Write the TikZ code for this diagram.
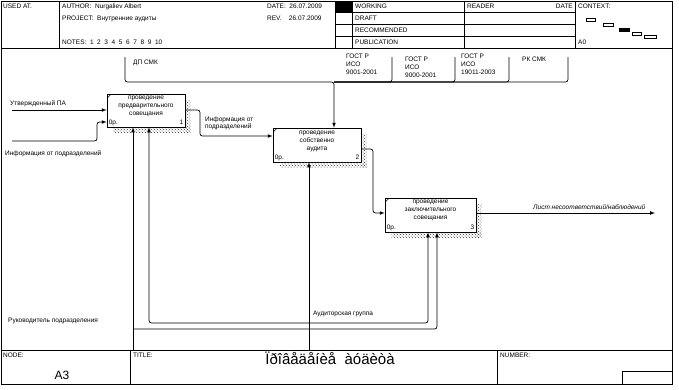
\documentclass[tikz,border=0pt]{standalone}
\usepackage{fontspec}
\setmainfont{Liberation Sans}
\usetikzlibrary{positioning, calc, arrows, patterns}
\newcommand\dfont{\fontsize{6.5}{8}\selectfont}
\tikzset{frm/.style={draw, line width=0.6pt}}
\tikzset{abox/.style={draw, line width=0.7pt, fill=white, inner sep=0pt}}
\tikzset{shd/.style={pattern=crosshatch dots, pattern color=black!80}}
\tikzset{arr/.style={draw, -latex, line width=0.7pt, rounded corners=2.5pt}}
\tikzset{lnk/.style={draw, line width=0.7pt, rounded corners=2.5pt}}
\tikzset{lbl/.style={font=\dfont, inner sep=0pt, anchor=base west, align=left}}
\tikzset{btxt/.style={font=\dfont, inner sep=0pt, anchor=north, align=center}}

\begin{document}
\begin{tikzpicture}[x=1pt, y=-1pt]
\useasboundingbox (0,0) rectangle (679,389);
% frame and header
\draw[frm] (1,1) rectangle (672,384);
\draw[frm] (1,48) -- (672,48);
\draw[frm] (59,1) -- (59,48);
\draw[frm] (335,1) -- (335,48);
\draw[frm] (352,1) -- (352,48);
\draw[frm] (464,1) -- (464,48);
\draw[frm] (575,1) -- (575,48);
\foreach \y in {12,24,36} \draw[frm] (335,\y) -- (575,\y);
\fill (335,1) rectangle (352,12);
\node[lbl] (usedat) at (3,8.5) {USED AT.};
\node[lbl] (author) at (62,8.5) {AUTHOR:\ \ Nurgaliev Albert};
\node[lbl] (project) at (62,20.5) {PROJECT:\ \ Внутренние аудиты};
\node[lbl] (notes) at (62,44) {NOTES:\ \ 1\ \ 2\ \ 3\ \ 4\ \ 5\ \ 6\ \ 7\ \ 8\ \ 9\ \ 10};
\node[lbl] (date) at (267,8.5) {DATE:\ \ 26.07.2009};
\node[lbl] (rev) at (267,20.5) {REV.\ \ \ \ 26.07.2009};
\node[lbl] (working) at (355,8.5) {WORKING};
\node[lbl] (draft) at (355,20.5) {DRAFT};
\node[lbl] (recom) at (355,32.5) {RECOMMENDED};
\node[lbl] (public) at (355,44.5) {PUBLICATION};
\node[lbl] (reader) at (467,8.5) {READER};
\node[lbl, anchor=base east] (rdate) at (573,8.5) {DATE};
\node[lbl] (context) at (578,8.5) {CONTEXT:};
\node[lbl] (cnode) at (578,44) {A0};
\draw[frm] (586,18) rectangle (595,21);
\draw[frm] (603,23) rectangle (613,26);
\filldraw[frm] (619,28) rectangle (629,31);
\draw[frm] (632,32) rectangle (641,35);
\draw[frm] (644,35) rectangle (656,38);
% footer
\draw[frm] (1,350) -- (672,350);
\draw[frm] (130,350) -- (130,384);
\draw[frm] (497,350) -- (497,384);
\draw[frm] (622,371) rectangle (672,384);
\node[lbl] (fnode) at (3,357) {NODE:};
\node[font=\fontsize{12}{12}\selectfont, inner sep=0pt] (fnum) at (62,375) {A3};
\node[lbl] (ftitle) at (133,357) {TITLE:};
\node[font=\fontsize{15}{15}\selectfont, inner sep=0pt] (ttl) at (330,358) {Ïðîâåäåíèå\ \ àóäèòà};
\node[lbl] (fnumber) at (500,357) {NUMBER:};
% activity boxes
\node[abox, minimum width=78pt, minimum height=33pt] (b1) at (146,110.5) {};
\node[abox, minimum width=88pt, minimum height=34pt] (b2) at (317,145) {};
\node[abox, minimum width=91pt, minimum height=34pt] (b3) at (430.5,215) {};
\foreach \b in {b1,b2,b3} {
  \fill[shd] ($(\b.north east)+(0.5,7)$) rectangle ($(\b.south east)+(5,5)$);
  \fill[shd] ($(\b.south west)+(7,0.5)$) rectangle ($(\b.south east)+(5,5)$);
  \draw[line width=0.5pt] ($(\b.north west)+(1,4)$) -- ($(\b.north west)+(4,1)$);
  \node[lbl, anchor=base west] (\b c) at ($(\b.south west)+(2,-3)$) {0р.};
}
\node[btxt] (b1t) at ($(b1.north)+(0,2.5)$) {проведение\\предварительного\\совещания};
\node[btxt] (b2t) at ($(b2.north)+(0,3)$) {проведение\\собственно\\аудита};
\node[btxt] (b3t) at ($(b3.north)+(0,2)$) {проведение\\заключительного\\совещания};
\node[lbl, anchor=base east] (b1n) at ($(b1.south east)+(-2,-3)$) {1};
\node[lbl, anchor=base east] (b2n) at ($(b2.south east)+(-2,-3)$) {2};
\node[lbl, anchor=base east] (b3n) at ($(b3.south east)+(-2,-3)$) {3};
% inputs
\coordinate (in1) at (12,110);
\coordinate (in2) at (12,141);
\draw[arr] (in1) -- (b1.west |- in1);
\draw[arr] (in2) -- (97,141) -- (97,122) -- (b1.west |- 97,122);
\node[lbl] (in1l) at (10,105) {Утвержденный ПА};
\node[lbl] (in2l) at (5,155) {Информация от подразделений};
\draw[arr] (b1.east |- 0,110) -- (200,110) -- (200,136) -- (b2.west |- 0,136);
\node[lbl, anchor=north west, font=\fontsize{6.5}{7}\selectfont] (o1l) at (205,116.5) {Информация от\\подразделений};
\draw[arr] (b2.east |- 0,149) -- (373,149) -- (373,213) -- (b3.west |- 0,213);
% output
\coordinate (out) at (655,213);
\draw[arr] (b3.east |- out) -- (out);
\node[lbl, font=\dfont\itshape] (outl) at (533,209) {Лист несоответствий/наблюдений};
% controls
\coordinate (c1) at (125,57);
\foreach \x/\n in {392/g1,455/g2,509/g3,568/g4} {
  \coordinate (\n) at (\x,57);
  \draw[lnk] (\n) -- (\x,82) -- (334,82);
}
\draw[arr] (c1) -- (125,82) -- (334,82) -- (b2.north -| 334,0);
\node[lbl] (c1l) at (133,64) {ДП СМК};
\node[lbl, anchor=north west] (g1l) at (346,54) {ГОСТ Р\\ИСО\\9001-2001};
\node[lbl, anchor=north west] (g2l) at (405,57) {ГОСТ Р\\ИСО\\9000-2001};
\node[lbl, anchor=north west] (g3l) at (461,54) {ГОСТ Р\\ИСО\\19011-2003};
\node[lbl, anchor=north west] (g4l) at (522,57) {РК СМК};
% mechanisms
\coordinate (m1) at (133,350);
\coordinate (m2) at (309,350);
\draw[arr] (m1) -- (b1.south -| m1);
\draw[arr] (133,329) -- (437,329) -- (b3.south -| 437,0);
\draw[arr] (m2) -- (b2.south -| m2);
\draw[arr] (309,323) -- (149,323) -- (b1.south -| 149,0);
\draw[arr] (309,323) -- (428,323) -- (b3.south -| 428,0);
\node[lbl] (m1l) at (8,322) {Руководитель подразделения};
\node[lbl] (m2l) at (313,315) {Аудиторская группа};
\end{tikzpicture}
\end{document}
